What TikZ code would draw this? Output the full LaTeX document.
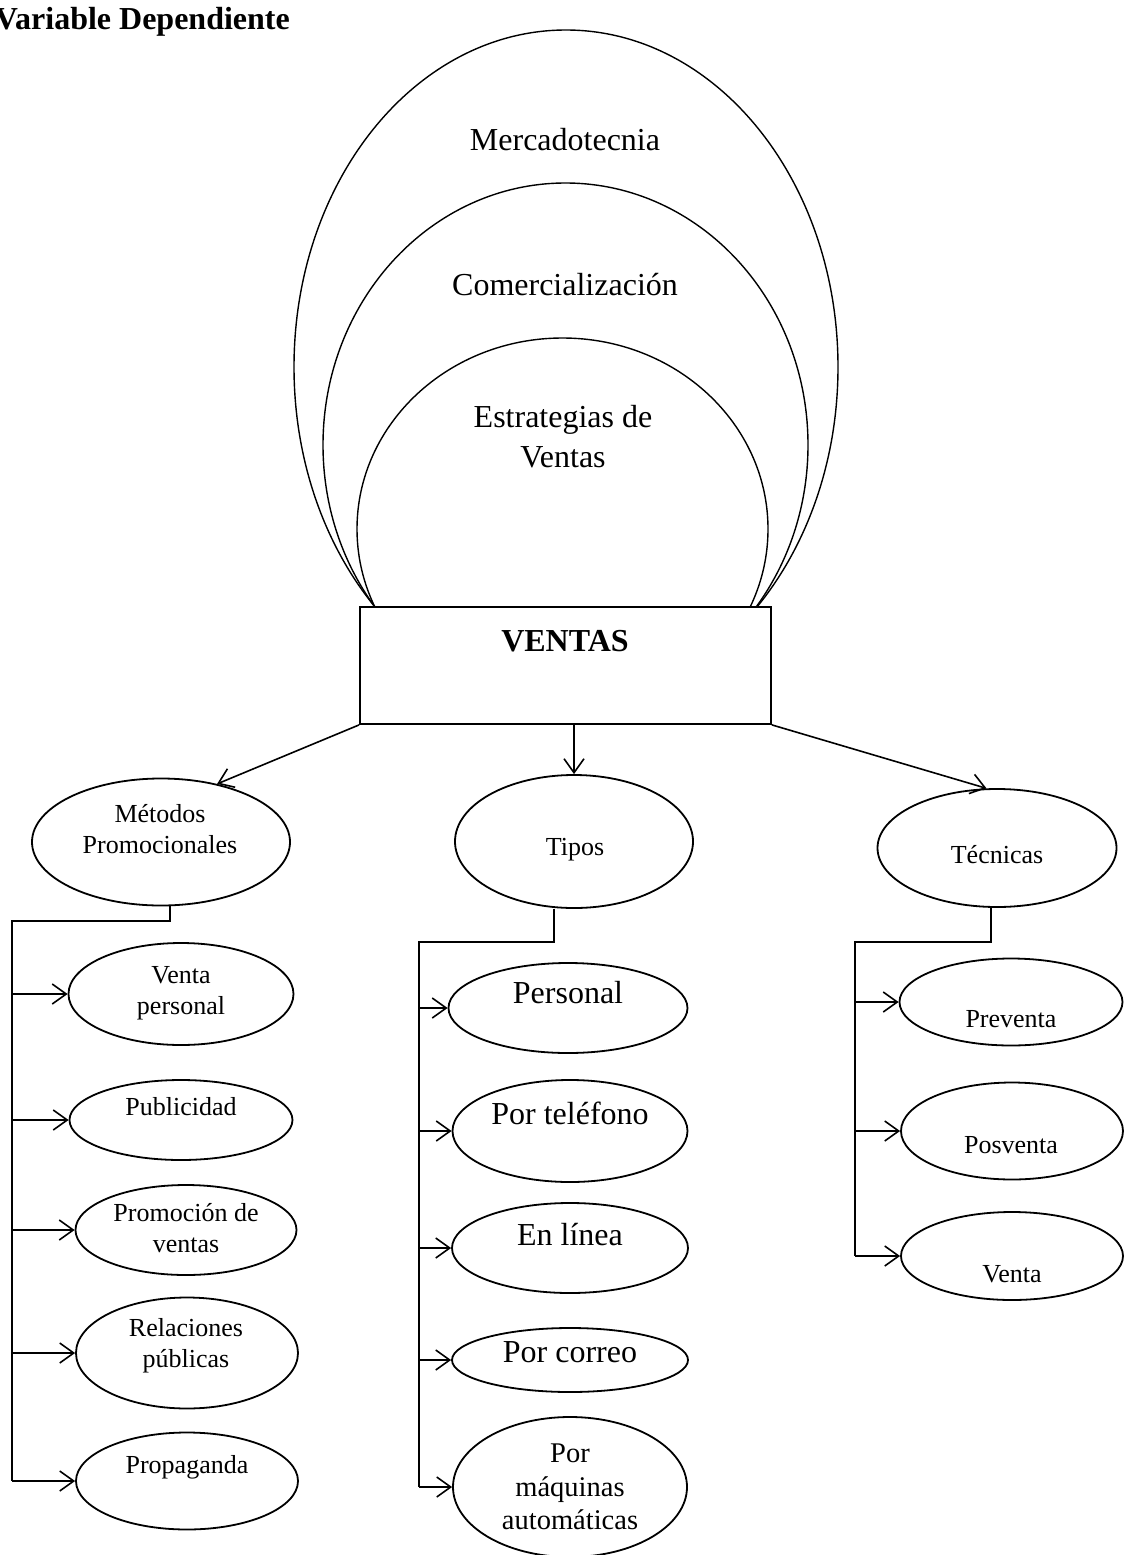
\documentclass[tikz,border=0pt]{standalone}
\usepackage{fontspec}
\setmainfont{Liberation Serif}
\usepackage{tikz}
\usetikzlibrary{shapes.geometric,arrows.meta}

\newcommand\bigtxt{\fontsize{32}{40}\selectfont}
\newcommand\smalltxt{\fontsize{26}{31}\selectfont}
\newcommand\midtxt{\fontsize{28.5}{33.5}\selectfont}

\begin{document}
\begin{tikzpicture}[x=1pt,y=-1pt,
    arch/.style={ellipse, draw, line width=1.4pt, inner sep=0pt},
    oval/.style={ellipse, draw, line width=1.8pt, inner sep=0pt},
    txt/.style={inner sep=0pt, align=center, font=\smalltxt},
    link/.style={line width=1.6pt},
    arr/.style={line width=1.6pt, -{Straight Barb[length=14pt,width=20pt]}}]
      \useasboundingbox (0,0) rectangle (1127,1555);
      \node[anchor=base east, inner sep=0pt, font=\bfseries\bigtxt] (title) at (290,30) {Variable Dependiente};
      % nested arches behind the box
      \node[arch, minimum width=544pt, minimum height=674pt] (merc) at (566,367) {};
      \node[arch, minimum width=485pt, minimum height=524pt] (comer) at (565.5,445) {};
      \node[arch, minimum width=411pt, minimum height=382pt] (estr) at (562.5,529) {};
      \node[txt, font=\bigtxt, anchor=base] (merct) at (565,150) {Mercadotecnia};
      \node[txt, font=\bigtxt, anchor=base] (comert) at (565,295) {Comercialización};
      \node[txt, font=\bigtxt] (estrt) at (563,437) {Estrategias de\\Ventas};
      \node[draw, fill=white, line width=1.8pt, minimum width=411pt, minimum height=117pt] (ventas) at (565.5,665.5) {};
      \node[txt, font=\bfseries\bigtxt, anchor=base] (ventast) at (565,651) {VENTAS};
      % second level
      \node[oval, minimum width=258pt, minimum height=127pt] (metodos) at (161,842) {};
      \node[oval, minimum width=238pt, minimum height=133pt] (tipos) at (574,841.5) {};
      \node[oval, minimum width=239pt, minimum height=118pt] (tecnicas) at (997,848) {};
      \node[txt] (metodost) at (160,829.5) {Métodos\\Promocionales};
      \node[txt, anchor=base] (tipost) at (575,855) {Tipos};
      \node[txt, anchor=base] (tecnicast) at (997,863) {Técnicas};
      \draw[arr] (ventas.south west) -- (metodos.46);
      \draw[arr] (ventas.south -| tipos) -- (tipos.north);
      \draw[arr] (ventas.south east) -- (tecnicas.100);
      % metodos promocionales
      \node[oval, minimum width=225pt, minimum height=102pt] (vp) at (181,994) {};
      \node[oval, minimum width=223pt, minimum height=80pt] (pub) at (181,1120) {};
      \node[oval, minimum width=221pt, minimum height=90pt] (prom) at (186,1230) {};
      \node[oval, minimum width=222pt, minimum height=111pt] (rel) at (187,1353) {};
      \node[oval, minimum width=222pt, minimum height=97pt] (prop) at (187,1481) {};
      \node[txt] (vpt) at (181,993) {Venta\\personal};
      \node[txt, anchor=base] (pubt) at (181,1115) {Publicidad};
      \node[txt] (promt) at (186,1228.5) {Promoción de\\ventas};
      \node[txt] (relt) at (186,1346) {Relaciones\\públicas};
      \node[txt, anchor=base] (propt) at (187,1473) {Propaganda};
      \coordinate (mstub) at (170,921);
      \coordinate (mbus) at (12,921);
      \draw[link] (metodos.south -| mstub) -- (mstub) -- (mbus) -- (mbus |- prop);
      \draw[arr] (mbus |- vp) -- (vp.west);
      \draw[arr] (mbus |- pub) -- (pub.west);
      \draw[arr] (mbus |- prom) -- (prom.west);
      \draw[arr] (mbus |- rel) -- (rel.west);
      \draw[arr] (mbus |- prop) -- (prop.west);
      % tipos
      \node[oval, minimum width=239pt, minimum height=90pt] (pers) at (568,1008) {};
      \node[oval, minimum width=235pt, minimum height=102pt] (tel) at (570,1131) {};
      \node[oval, minimum width=236pt, minimum height=90pt] (linea) at (570,1248) {};
      \node[oval, minimum width=236pt, minimum height=64pt] (correo) at (570,1360) {};
      \node[oval, minimum width=234pt, minimum height=140pt] (maq) at (570,1487) {};
      \node[txt, font=\bigtxt, anchor=base] (perst) at (568,1003) {Personal};
      \node[txt, font=\bigtxt, anchor=base] (telt) at (570,1124) {Por teléfono};
      \node[txt, font=\bigtxt, anchor=base] (lineat) at (570,1245) {En línea};
      \node[txt, font=\bigtxt, anchor=base] (correot) at (570,1362) {Por correo};
      \node[txt, font=\midtxt] (maqt) at (570,1487) {Por\\máquinas\\automáticas};
      \coordinate (tstub) at (554,942);
      \coordinate (tbus) at (419,942);
      \draw[link] (tipos.south -| tstub) -- (tstub) -- (tbus) -- (tbus |- maq);
      \draw[arr] (tbus |- pers) -- (pers.west);
      \draw[arr] (tbus |- tel) -- (tel.west);
      \draw[arr] (tbus |- linea) -- (linea.west);
      \draw[arr] (tbus |- correo) -- (correo.west);
      \draw[arr] (tbus |- maq) -- (maq.west);
      % tecnicas
      \node[oval, minimum width=223pt, minimum height=87pt] (prev) at (1011,1002) {};
      \node[oval, minimum width=222pt, minimum height=97pt] (posv) at (1012,1131) {};
      \node[oval, minimum width=222pt, minimum height=88pt] (venta) at (1012,1256) {};
      \node[txt, anchor=base] (prevt) at (1011,1027) {Preventa};
      \node[txt, anchor=base] (posvt) at (1011,1153) {Posventa};
      \node[txt, anchor=base] (ventat) at (1012,1282) {Venta};
      \coordinate (cstub) at (991,942);
      \coordinate (cbus) at (855,942);
      \draw[link] (tecnicas.south -| cstub) -- (cstub) -- (cbus) -- (cbus |- venta);
      \draw[arr] (cbus |- prev) -- (prev.west);
      \draw[arr] (cbus |- posv) -- (posv.west);
      \draw[arr] (cbus |- venta) -- (venta.west);
\end{tikzpicture}
\end{document}
